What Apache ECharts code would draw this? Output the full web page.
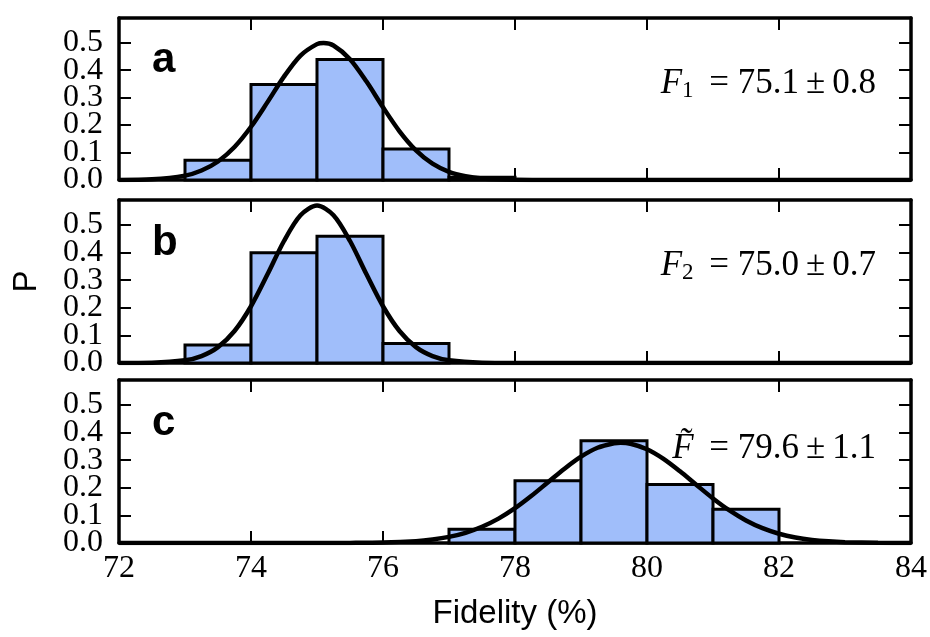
<!DOCTYPE html>
<html>
<head>
<meta charset="utf-8">
<script src="https://cdn.jsdelivr.net/npm/echarts@6/dist/echarts.min.js"></script>
<style>
html,body{margin:0;padding:0;background:#fff;}
#chart{width:930px;height:637px;}
</style>
</head>
<body>
<div id="chart"></div>
<script>
// ---- data ----
const binWidth = 1;
const binsA = [73, 74, 75, 76, 77];
const probA = [0.072, 0.348, 0.439, 0.113, 0.01];
const binsB = [73, 74, 75, 76];
const probB = [0.065, 0.399, 0.459, 0.071];
const binsC = [77, 78, 79, 80, 81];
const probC = [0.05, 0.225, 0.37, 0.212, 0.122];

const curveAx = [72, 72.5, 73, 73.25, 73.5, 73.75, 74, 74.25, 74.5, 74.75, 75, 75.1, 75.25, 75.5, 75.75, 76, 76.25, 76.5, 76.75, 77, 77.25, 77.5, 78, 78.5, 79, 84];
const curveAy = [0.0003, 0.0025, 0.0159, 0.0344, 0.0675, 0.1201, 0.1938, 0.2836, 0.3764, 0.4532, 0.4948, 0.4987, 0.4900, 0.4401, 0.3585, 0.2649, 0.1775, 0.1079, 0.0594, 0.0297, 0.0135, 0.0055, 0.0007, 0.0001, 0, 0];
const curveBx = [72, 72.5, 73, 73.25, 73.5, 73.75, 74, 74.25, 74.5, 74.75, 75, 75.25, 75.5, 75.75, 76, 76.25, 76.5, 76.75, 77, 77.5, 78, 84];
const curveBy = [0.0001, 0.001, 0.0096, 0.025, 0.0574, 0.1157, 0.2054, 0.321, 0.4416, 0.5347, 0.5699, 0.5347, 0.4416, 0.321, 0.2054, 0.1157, 0.0574, 0.025, 0.0096, 0.001, 0.0001, 0];
const curveCx = [72, 75, 75.5, 76, 76.5, 76.75, 77, 77.25, 77.5, 77.75, 78, 78.25, 78.5, 78.75, 79, 79.25, 79.5, 79.6, 79.75, 80, 80.25, 80.5, 80.75, 81, 81.25, 81.5, 81.75, 82, 82.25, 82.5, 82.75, 83, 83.5, 84];
const curveCy = [0, 0.0001, 0.0004, 0.0017, 0.0068, 0.0127, 0.0222, 0.037, 0.0587, 0.0882, 0.1259, 0.1708, 0.22, 0.2691, 0.3126, 0.3448, 0.3612, 0.3627, 0.3593, 0.3395, 0.3046, 0.2595, 0.21, 0.1614, 0.1178, 0.0816, 0.0537, 0.0336, 0.0199, 0.0112, 0.006, 0.0031, 0.0007, 0.0001];

const xTicks = [72, 74, 76, 78, 80, 82, 84];
const yTicks = [0.0, 0.1, 0.2, 0.3, 0.4, 0.5];
const panelLetters = ['a', 'b', 'c'];
const xName = 'Fidelity (%)';
const yName = 'P';

// ---- style ----
const serif = "'Liberation Serif', 'DejaVu Serif', serif";
const sans = "'Liberation Sans', Arial, sans-serif";
const barFill = '#a0befa';
const X_MIN = xTicks[0], X_MAX = xTicks[xTicks.length - 1];
const Y_MAX = 0.59;

const grids = [
  {left: 119, right: 19, top: 18, height: 162},
  {left: 119, right: 19, top: 200, height: 163},
  {left: 119, right: 19, top: 380, height: 163}
];

const frameLine = {show: true, onZero: false, lineStyle: {color: '#000', width: 3.5}};
const tick = {show: true, inside: true, length: 12, lineStyle: {color: '#000', width: 2}};
const yLabelStyle = {fontFamily: serif, fontSize: 32, color: '#000', margin: 16, hideOverlap: false};
const fmt = v => (Math.abs(v * 10 - Math.round(v * 10)) < 1e-6 ? v.toFixed(1) : '');

const xAxes = [], yAxes = [], series = [];
const bins = [binsA, binsB, binsC];
const probs = [probA, probB, probC];
const cx = [curveAx, curveBx, curveCx];
const cy = [curveAy, curveBy, curveCy];

grids.forEach((g, i) => {
  const isLast = i === grids.length - 1;
  xAxes.push({
    type: 'value', gridIndex: i, min: X_MIN, max: X_MAX, interval: 2, position: 'bottom',
    axisLine: frameLine, axisTick: tick, splitLine: {show: false},
    axisLabel: {show: isLast, fontFamily: serif, fontSize: 32, color: '#000', margin: 10,
      showMinLabel: true, showMaxLabel: true, hideOverlap: false},
    name: isLast ? xName : '', nameLocation: 'middle', nameGap: 54,
    nameTextStyle: {fontFamily: sans, fontSize: 33, color: '#000'}
  });
  xAxes.push({
    type: 'value', gridIndex: i, min: X_MIN, max: X_MAX, interval: 2, position: 'top',
    axisLine: frameLine, axisTick: tick, splitLine: {show: false}, axisLabel: {show: false}
  });
  // main left axis: ticks + labels 0.1 .. 0.5
  yAxes.push({
    type: 'value', gridIndex: i, min: 0, max: Y_MAX, interval: 0.1, position: 'left',
    axisLine: frameLine, axisTick: tick, splitLine: {show: false},
    axisLabel: Object.assign({}, yLabelStyle, {showMinLabel: false, showMaxLabel: false, formatter: fmt}),
    name: i === 1 ? yName : '', nameLocation: 'middle', nameGap: 76, nameRotate: 90,
    nameTextStyle: {fontFamily: sans, fontSize: 33, color: '#000'}
  });
  // right frame axis
  yAxes.push({
    type: 'value', gridIndex: i, min: 0, max: Y_MAX, interval: 0.1, position: 'right',
    axisLine: frameLine, axisTick: tick, splitLine: {show: false}, axisLabel: {show: false}
  });
  // left helper axis carrying only the 0.0 label
  yAxes.push({
    type: 'value', gridIndex: i, min: 0, max: Y_MAX, interval: 1, position: 'left',
    axisLine: {show: false}, axisTick: {show: false}, splitLine: {show: false},
    axisLabel: Object.assign({}, yLabelStyle, {showMinLabel: true, showMaxLabel: false, formatter: fmt})
  });

  series.push({
    type: 'custom', xAxisIndex: 2 * i, yAxisIndex: 3 * i, z: 2,
    data: bins[i].map((b, k) => [b, b + binWidth, probs[i][k]]),
    encode: {x: [0, 1], y: 2},
    renderItem: (params, api) => {
      const p0 = api.coord([api.value(0), api.value(2)]);
      const p1 = api.coord([api.value(1), 0]);
      return {
        type: 'rect',
        shape: {x: p0[0], y: p0[1], width: p1[0] - p0[0], height: p1[1] - p0[1]},
        style: {fill: barFill, stroke: '#000', lineWidth: 3}
      };
    }
  });
  series.push({
    type: 'line', xAxisIndex: 2 * i, yAxisIndex: 3 * i, z: 3,
    data: cx[i].map((x, k) => [x, cy[i][k]]),
    showSymbol: false, symbol: 'none', smooth: 0.3,
    lineStyle: {color: '#000', width: 4.5}, clip: true
  });
});

const rich = {
  i: {fontFamily: serif, fontStyle: 'italic', fontSize: 35, color: '#000'},
  s: {fontFamily: serif, fontSize: 23, color: '#000', padding: [14, 0, 0, 0]},
  t: {fontFamily: serif, fontSize: 35, color: '#000'}
};
const annotations = [
  '{i|F}{s|1}{t| \u2009= 75.1\u2009±\u20090.8}',
  '{i|F}{s|2}{t| \u2009= 75.0\u2009±\u20090.7}',
  '{i|F\u0303}{t| \u2009= 79.6\u2009±\u20091.1}'
];
const annotY = [84, 266, 449];
const letterY = [60, 243, 423];

const graphic = [];
annotations.forEach((txt, i) => {
  graphic.push({type: 'text', x: 876, y: annotY[i], z: 10,
    style: {text: txt, rich: rich, align: 'right', verticalAlign: 'middle'}});
  graphic.push({type: 'text', x: 152, y: letterY[i], z: 10,
    style: {text: panelLetters[i], fontFamily: sans, fontWeight: 'bold', fontSize: 42, fill: '#000', align: 'left', verticalAlign: 'middle'}});
});

const chart = echarts.init(document.getElementById('chart'), null, {renderer: 'canvas'});
chart.setOption({
  animation: false,
  backgroundColor: '#fff',
  grid: grids,
  xAxis: xAxes,
  yAxis: yAxes,
  series: series,
  graphic: graphic
});
</script>
</body>
</html>
